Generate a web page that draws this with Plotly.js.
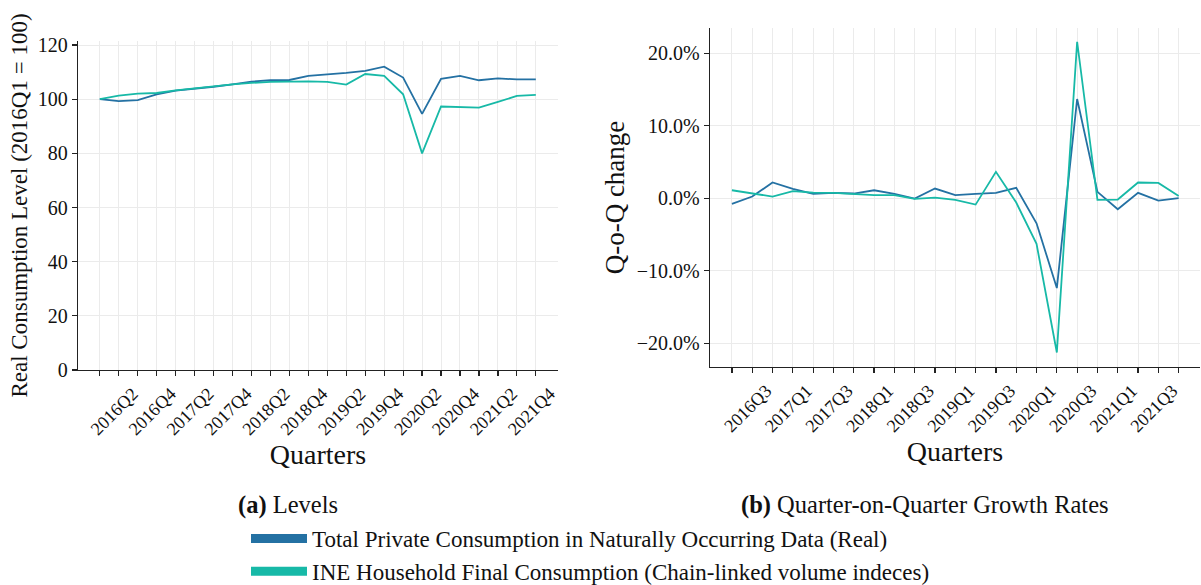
<!DOCTYPE html>
<html>
<head>
<meta charset="utf-8">
<script src="https://cdn.plot.ly/plotly-3.0.1.min.js"></script>
<style>html,body{margin:0;padding:0;background:#fff;}#chart{width:1201px;height:585px;}</style>
</head>
<body>
<div id="chart"></div>
<script>
// ---- Data ----
var levelQuarters = ["2016Q1","2016Q2","2016Q3","2016Q4","2017Q1","2017Q2","2017Q3","2017Q4",
  "2018Q1","2018Q2","2018Q3","2018Q4","2019Q1","2019Q2","2019Q3","2019Q4",
  "2020Q1","2020Q2","2020Q3","2020Q4","2021Q1","2021Q2","2021Q3","2021Q4"];
var levelTotalPrivate = [100.0, 99.3, 99.7, 101.8, 103.2, 103.8, 104.6, 105.5,
  106.5, 107.0, 107.1, 108.6, 109.1, 109.7, 110.5, 112.0,
  108.0, 94.6, 107.5, 108.6, 107.0, 107.7, 107.3, 107.3];
var levelINE = [100.0, 101.3, 102.1, 102.3, 103.3, 104.1, 104.9, 105.5,
  106.0, 106.4, 106.5, 106.6, 106.4, 105.4, 109.3, 108.6,
  101.8, 80.0, 97.3, 97.1, 96.9, 99.0, 101.2, 101.6];
var levelTickLabels = ["","2016Q2","","2016Q4","","2017Q2","","2017Q4",
  "","2018Q2","","2018Q4","","2019Q2","","2019Q4",
  "","2020Q2","","2020Q4","","2021Q2","","2021Q4"];

var growthQuarters = ["2016Q2","2016Q3","2016Q4","2017Q1","2017Q2","2017Q3","2017Q4",
  "2018Q1","2018Q2","2018Q3","2018Q4","2019Q1","2019Q2","2019Q3","2019Q4",
  "2020Q1","2020Q2","2020Q3","2020Q4","2021Q1","2021Q2","2021Q3","2021Q4"];
var growthTotalPrivate = [-0.78, 0.23, 2.17, 1.29, 0.60, 0.74, 0.65,
  1.10, 0.60, -0.05, 1.34, 0.42, 0.60, 0.74, 1.43,
  -3.46, -12.4, 13.7, 0.88, -1.52, 0.74, -0.32, 0.0];
var growthINE = [1.10, 0.65, 0.23, 0.97, 0.78, 0.74, 0.60,
  0.42, 0.42, -0.09, 0.09, -0.23, -0.88, 3.64, -0.60,
  -6.3, -21.3, 21.6, -0.23, -0.18, 2.17, 2.12, 0.32];
var growthTickLabels = ["","2016Q3","","2017Q1","","2017Q3","",
  "2018Q1","","2018Q3","","2019Q1","","2019Q3","",
  "2020Q1","","2020Q3","","2021Q1","","2021Q3",""];

var seriesNames = ["Total Private Consumption in Naturally Occurring Data (Real)",
  "INE Household Final Consumption (Chain-linked volume indeces)"];
var captions = ["<b>(a)</b> Levels", "<b>(b)</b> Quarter-on-Quarter Growth Rates"];

// ---- Style ----
var BLUE = "#2471a3", TEAL = "#17b9a7";
var FONT = "'Liberation Serif', 'DejaVu Serif', serif";
var GRID = "#ebebeb";

var traces = [
  {x: levelQuarters, y: levelTotalPrivate, type: "scatter", mode: "lines", xaxis: "x", yaxis: "y",
   line: {color: BLUE, width: 1.8}, showlegend: false},
  {x: levelQuarters, y: levelINE, type: "scatter", mode: "lines", xaxis: "x", yaxis: "y",
   line: {color: TEAL, width: 1.8}, showlegend: false},
  {x: growthQuarters, y: growthTotalPrivate, type: "scatter", mode: "lines", xaxis: "x2", yaxis: "y2",
   line: {color: BLUE, width: 1.8}, showlegend: false},
  {x: growthQuarters, y: growthINE, type: "scatter", mode: "lines", xaxis: "x2", yaxis: "y2",
   line: {color: TEAL, width: 1.8}, showlegend: false},
  {x: [null], y: [null], type: "scatter", mode: "lines", name: seriesNames[0], legendgroup: "a",
   line: {color: BLUE, width: 9}, showlegend: true, hoverinfo: "skip"},
  {x: [null], y: [null], type: "scatter", mode: "lines", name: seriesNames[1], legendgroup: "b",
   line: {color: TEAL, width: 9}, showlegend: true, hoverinfo: "skip"}
];

function xax(domain, cats, labels, rng) {
  return {
    domain: domain, type: "category", range: rng,
    tickmode: "array", tickvals: cats, ticktext: labels, tickangle: -45,
    ticks: "outside", ticklen: 5, tickwidth: 1.2, tickcolor: "#222",
    showline: true, linecolor: "#222", linewidth: 1.3,
    showgrid: true, gridcolor: GRID, gridwidth: 1, zeroline: false,
    tickfont: {family: FONT, size: 18, color: "#111"},
    ticklabelshift: 14, ticklabelstandoff: 0,
    title: {text: "Quarters", font: {family: FONT, size: 28, color: "#111"}, standoff: 4},
    automargin: false, fixedrange: true
  };
}

var layout = {
  width: 1201, height: 585,
  margin: {l: 0, r: 0, t: 0, b: 0, autoexpand: false},
  paper_bgcolor: "#fff", plot_bgcolor: "#fff",
  font: {family: FONT, color: "#111"},
  xaxis: xax([78/1201, 558/1201], levelQuarters, levelTickLabels, [-1.15, 24.17]),
  xaxis2: Object.assign(xax([710/1201, 1200/1201], growthQuarters, growthTickLabels, [-1.08, 23.05]), {anchor: "y2"}),
  yaxis: {
    domain: [(585-370)/585, (585-41)/585], range: [0, 121.5], dtick: 20, tick0: 0,
    ticks: "outside", ticklen: 5, tickwidth: 1.2, tickcolor: "#222",
    showline: true, linecolor: "#222", linewidth: 1.3,
    showgrid: true, gridcolor: GRID, zeroline: false,
    tickfont: {family: FONT, size: 20, color: "#111"},
    title: {text: "Real Consumption Level (2016Q1 = 100)", font: {family: FONT, size: 23, color: "#111"}, standoff: 3},
    automargin: false, fixedrange: true
  },
  yaxis2: {
    domain: [(585-367)/585, (585-28)/585], range: [-23.3, 23.5], dtick: 10, tick0: 0,
    tickformat: ".1f", ticksuffix: "%", anchor: "x2",
    ticks: "outside", ticklen: 5, tickwidth: 1.2, tickcolor: "#222",
    showline: true, linecolor: "#222", linewidth: 1.3,
    showgrid: true, gridcolor: GRID, zeroline: false,
    tickfont: {family: FONT, size: 20, color: "#111"},
    title: {text: "Q-o-Q change", font: {family: FONT, size: 27, color: "#111"}, standoff: 4},
    automargin: false, fixedrange: true
  },
  showlegend: true,
  legend: {
    x: 246/1201, y: (585-517)/585, xanchor: "left", yanchor: "top",
    orientation: "v", bgcolor: "rgba(0,0,0,0)", borderwidth: 0,
    font: {family: FONT, size: 23, color: "#111"},
    itemwidth: 56, itemclick: false, itemdoubleclick: false,
    traceorder: "grouped", tracegroupgap: 0
  },
  annotations: [
    {text: captions[0], xref: "paper", yref: "paper", x: 288/1201, y: (585-505)/585,
     xanchor: "center", yanchor: "middle", showarrow: false, font: {family: FONT, size: 24.5, color: "#111"}},
    {text: captions[1], xref: "paper", yref: "paper", x: 925/1201, y: (585-505)/585,
     xanchor: "center", yanchor: "middle", showarrow: false, font: {family: FONT, size: 24.5, color: "#111"}}
  ]
};

Plotly.newPlot("chart", traces, layout, {staticPlot: true, displayModeBar: false});
</script>
</body>
</html>
